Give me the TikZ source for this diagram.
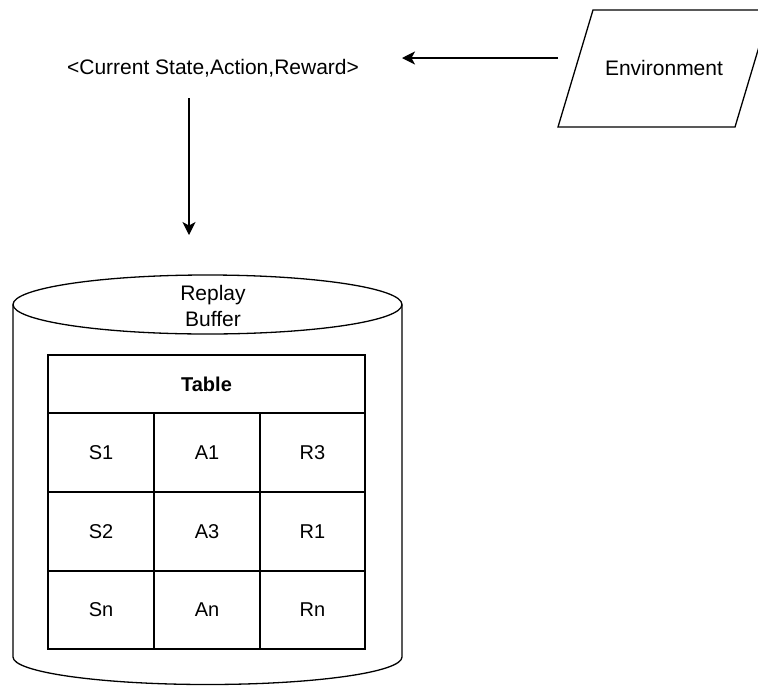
\documentclass[tikz,border=0pt]{standalone}
\usepackage{fontspec}
\setmainfont{Liberation Sans}
\usetikzlibrary{arrows.meta}
\tikzset{
  shape line/.style={draw=black, line width=1.3pt},
  flow/.style={draw=black, line width=1.3pt, -{Stealth[length=13pt,width=13pt,inset=3.5pt]}},
  label text/.style={font=\fontsize{21}{25}\selectfont, inner sep=0pt, align=center},
  cell text/.style={font=\fontsize{20}{24}\selectfont, inner sep=0pt},
}
\begin{document}
\begin{tikzpicture}[x=1pt, y=-1pt]
  \useasboundingbox (0,0) rectangle (758,686);
  \fill[white] (0,0) rectangle (758,686);
  \begin{scope}
    \clip (0,0) rectangle (758,686);

    % environment: parallelogram (runs past the right edge)
    \draw[shape line] (593,10) -- (770,10) -- (735,127) -- (558,127) -- cycle;
    \node[label text] (env) at (664,68) {Environment};

    % tuple label
    \node[label text] (tuple) at (213,68) {<Current State,Action,Reward>};

    \coordinate (envport) at (558,58);
    \coordinate (tupleport) at (402,58);
    \coordinate (tupleout) at (189,98);
    \coordinate (bufferin) at (189,235);

    \draw[flow] (envport) -- (tupleport);
    \draw[flow] (tupleout) -- (bufferin);

    % replay buffer cylinder
    \draw[shape line] (13,304.5) -- (13,657)
      arc[start angle=180, end angle=0, x radius=194.5, y radius=27.5]
      -- (402,304.5);
    \draw[shape line, fill=white] (207.5,304.5) ellipse [x radius=194.5, y radius=29.5];
    \node[label text] (buffer) at (213,306) {Replay\\[1pt]Buffer};

    % table inside the buffer
    \draw[shape line] (48,355) rectangle (365,649);
    \draw[shape line] (48,413) -- (365,413);
    \draw[shape line] (48,492) -- (365,492);
    \draw[shape line] (48,571) -- (365,571);
    \draw[shape line] (154,413) -- (154,649);
    \draw[shape line] (260,413) -- (260,649);

    \node[cell text, font=\fontsize{20}{24}\selectfont\bfseries] (thead) at (206.5,384) {Table};

    \node[cell text] (s1) at (101,452.5) {S1};
    \node[cell text] (a1) at (207,452.5) {A1};
    \node[cell text] (r3) at (312.5,452.5) {R3};
    \node[cell text] (s2) at (101,531.5) {S2};
    \node[cell text] (a3) at (207,531.5) {A3};
    \node[cell text] (r1) at (312.5,531.5) {R1};
    \node[cell text] (sn) at (101,610) {Sn};
    \node[cell text] (an) at (207,610) {An};
    \node[cell text] (rn) at (312.5,610) {Rn};
  \end{scope}
\end{tikzpicture}
\end{document}
